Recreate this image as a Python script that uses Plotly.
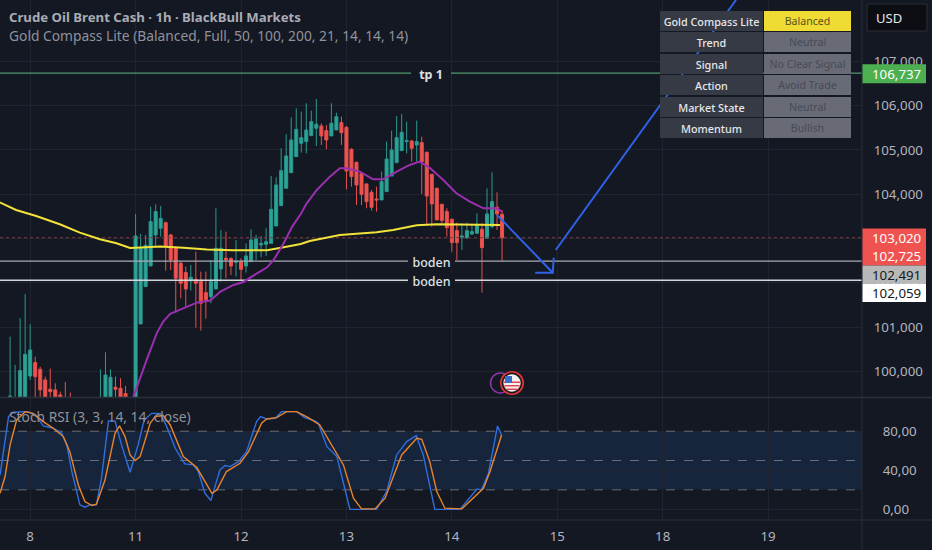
import plotly.graph_objects as go

# ---------- data ----------
bar_index = [-25,-24,-23,-22,-21,-20,-19,-18,-17,-16,-15,-14,-13,-7,-6,-5,-4,-3,-2] + list(range(0,74))
bar_open = [99403,99250,99300,99350,99899,100200,100050,99809,99599,99584,99471,99400,99380,99300,99300,99300,99644,99621,99501,
 99300,101073,101916,102382,103082,103233,103360,103082,102796,102443,102232,102044,102081,102029,101780,101690,101863,102315,102555,102548,
 102465,102480,102382,102480,102743,102856,102871,102894,103285,103744,104135,104489,104850,105151,105189,105324,105490,105542,105437,105317,
 105452,105618,105512,105016,104722,104474,104233,104045,103895,103872,104060,104414,104715,104986,105189,105204,105114,105166,104948,104451,
 104135,103774,103609,103436,103180,103029,103022,103105,103120,103210,103007,103270,103707,103548]
bar_high = [100787,100148,101201,101750,101066,100336,100110,99884,100065,99734,99546,99764,99523,100050,100434,100050,99884,99847,99674,
 103556,103105,103082,103722,103774,103737,103383,103105,102819,102480,102367,102405,102706,102254,102254,102518,103684,103195,103157,102578,
 102969,102555,102894,103210,103082,103059,103233,104414,104384,105038,105354,105738,105941,105866,106054,105888,106152,105603,105565,106054,
 105843,105753,105542,105038,104737,104489,104248,104098,104173,104512,105189,105437,105768,105813,105640,105226,105663,105302,104963,104459,
 104150,103782,103684,103451,103360,103345,103360,103308,103571,103345,104135,104497,104045,103646]
bar_low = [99380,99200,99250,99300,99809,99300,99300,99300,99300,99300,99300,99300,99300,99280,99280,99280,99300,99300,99300,
 99280,101073,101916,102382,102819,103044,102277,102292,101329,101653,101464,101826,100990,100923,101194,101540,101863,102029,102104,102179,
 102142,102051,102232,102480,102518,102578,102608,102894,103285,103744,104135,104489,104850,104940,104925,105324,105091,105114,105016,105317,
 105452,105114,104113,104173,103759,103759,103684,103631,103609,103872,104060,104414,104715,104986,104925,104737,104737,104008,103308,103270,
 103421,103345,103044,102706,102518,102743,102992,103082,103120,101780,103007,103233,103195,102503]
bar_close = [99448,99350,100020,100388,100486,99884,99584,99380,99546,99380,99350,99350,99350,99380,99922,99869,99599,99380,99380,
 103059,102796,102849,103383,103609,103458,102819,102518,102104,101991,101863,102127,101991,101540,101615,102029,102781,102781,102518,102382,
 102488,102307,102608,102969,102992,102894,102931,103661,104211,104534,104865,105226,105467,105279,105452,105640,105580,105317,105226,105603,
 105753,105392,104527,104399,104211,104000,103834,103707,103872,104286,104797,105001,105279,105399,105211,105038,105189,104737,103962,103782,
 103421,103406,103248,102909,102909,103059,103180,103157,103308,102796,103556,103834,103556,103020]

ma_long_x = [-27.1,-23.8,-19.8,-15.1,-11.1,-7.1,-3.8,-1.1,0,4.9,9.5,14.2,19.5,26.2,29.5,32.9,34.7,40.7,48,51.3,56,60,72.6]
ma_long_y = [103819,103646,103511,103323,103135,102984,102894,102789,102796,102819,102796,102751,102736,102736,102804,102879,102947,103082,103142,103195,103300,103323,103308]
ma_short_x = [-0.5,0.5,2.2,4.2,5.5,6.9,9.2,12.2,14.9,16.9,19.5,21.5,24.2,26.2,27.5,29.5,31.2,32.9,34.1,36.1,38.7,40.7,42,44.7,47.3,49.3,52,54.6,56.6,58.7,61.3,63.9,66.6,69.3,71.9,73]
ma_short_y = [99403,99734,100261,100862,101126,101299,101404,101555,101600,101803,101953,102021,102217,102352,102518,102894,103270,103556,103797,104098,104399,104587,104587,104512,104339,104339,104512,104662,104737,104587,104323,104023,103834,103684,103684,103609]

arrow_down_x = [72,83.1,79.6,83.1,83.3]
arrow_down_y = [103533,102230,102230,102230,102569]
arrow_up_x = [83.7,119.6]
arrow_up_y = [102743,108386]

stoch_k_x = [-27,-25.3,-24.4,-21.4,-19.7,-18.4,-16.4,-14.7,-13.7,-12.7,-11.1,-10.1,-9.1,-7.8,-6.8,-5.4,-4.1,-2.8,-1.1,0.5,1.7,3.2,4.9,6.2,7.9,9.8,11.5,12.5,13.8,15,16.8,17.8,18.8,20.5,22.1,24.1,24.9,26.1,27.8,29.1,30.8,32.1,33.7,35.7,36.4,38.1,40.1,42.7,48,50,52,54,55.9,57.3,59.6,64.6,68,68.9,70.3,72.1,72.9]
stoch_k_y = [35.3,94.9,99.4,100,94.9,85.4,83,77.9,66,38.7,4.6,2.2,4.6,4.6,31.8,90.5,90.5,66,38,66,91.5,98.3,98.3,84.7,62.5,46.5,45.5,38.7,16.5,9,40.4,44.8,43.8,48.9,59.1,89.8,94.9,92.5,93.2,100,100,100,93.9,90.5,88.1,64.2,54,0,0,18.2,55.7,69.4,75.5,55.7,0,0,20.9,19.9,37,85.4,76.2]
stoch_d_x = [-27,-26,-25,-23.7,-22,-20.4,-18.4,-16.4,-14.4,-13.1,-11.4,-10.1,-8.7,-7.8,-6.1,-4.1,-3.2,-2.1,-1.1,-0.1,0.9,2.9,3.9,5.5,6.9,9.5,12.2,13.5,15.2,16.2,18.1,20.8,22.5,25.1,26.1,28.1,30.1,32.1,34.4,36.7,40.1,41.4,43.4,45,47.7,49.7,53,56,57,58.6,60,61.6,65,68,69.3,70.6,71.9,72.9]
stoch_d_y = [16.5,33.6,66,91.5,100,98.3,89.8,83,74.5,59.1,25,8,3.9,5.2,30.1,77.9,85.4,74.5,55.7,49.9,54,88.1,94.9,96,86.4,54,42.8,31.8,16.5,19.9,38.7,47.2,59.1,88.1,92.5,93.9,100,100,93.9,86.4,57.4,45.5,11.4,0.5,0.5,11.4,55.7,72.8,71.7,48.9,18.2,1.2,0.5,15.5,21.6,38.7,60.8,76.2]

day_ticks = [-21,0,21,42,63,84,105,126]
day_labels = ["8","11","12","13","14","15","18","19"]
price_ticks = [100000,101000,102000,103000,104000,105000,106000,107000]
price_tick_labels = ["100,000","101,000","102,000","103,000","104,000","105,000","106,000","107,000"]
stoch_ticks = [0,40,80]
stoch_tick_labels = ["0,00","40,00","80,00"]
stoch_levels = [20,50,80]
tp_level = 106737
floor_levels = [102491,102059]
last_price = 103020
other_price = 102725

table_left = ["Gold Compass Lite","Trend","Signal","Action","Market State","Momentum"]
table_right = ["Balanced","Neutral","No Clear Signal","Avoid Trade","Neutral","Bullish"]

# ---------- styling ----------
BG = "#141823"
GRID = "#1f2430"
AXIS = "#2b2f3a"
TXT = "#b2b5be"
FONT = "Noto Sans"
XR = [-27.01, 144.7]
fig = go.Figure()

def px(x): return x/862
def py(y): return (520-y)/520

fig.add_trace(go.Candlestick(x=bar_index, open=bar_open, high=bar_high, low=bar_low, close=bar_close,
    xaxis="x", yaxis="y", whiskerwidth=0,
    increasing=dict(line=dict(color="#2b9a8f", width=1), fillcolor="#2ba598"),
    decreasing=dict(line=dict(color="#e8504d", width=1), fillcolor="#ef5350"),
    hoverinfo="skip", showlegend=False))

def line(x, y, color, width, dash="solid", xa="x", ya="y"):
    fig.add_trace(go.Scatter(x=x, y=y, mode="lines", xaxis=xa, yaxis=ya, hoverinfo="skip", showlegend=False,
                             line=dict(color=color, width=width, dash=dash)))

line(XR, [last_price,last_price], "#7a3a40", 1, "dot")
line(XR, [tp_level,tp_level], "#4f9a6c", 1.2)
line(XR, [floor_levels[0]]*2, "#a8abb3", 1.4)
line(XR, [floor_levels[1]]*2, "#d4d6dc", 1.4)
line(ma_long_x, ma_long_y, "#f2e33a", 2)
line(ma_short_x, ma_short_y, "#9a2fb0", 2)
line(arrow_down_x, arrow_down_y, "#2f62e6", 2)
line(arrow_up_x, arrow_up_y, "#2f62e6", 2)

for lv in stoch_levels:
    line(XR, [lv,lv], "#6a6e78", 1, "dash", "x", "y2")
line(stoch_k_x, stoch_k_y, "#2f6fe0", 1.4, "solid", "x", "y2")
line(stoch_d_x, stoch_d_y, "#e8842c", 1.4, "solid", "x", "y2")

def box(x0, x1, y0, y1, fill, edge=None):
    return dict(type="rect", xref="paper", yref="paper", x0=px(x0), x1=px(x1), y0=py(y1), y1=py(y0), fillcolor=fill,
                line=dict(color=edge, width=1) if edge else dict(width=0))

shapes = [
    dict(type="rect", xref="x", yref="y2", x0=XR[0], x1=XR[1], y0=stoch_levels[0], y1=stoch_levels[2],
         fillcolor="rgba(33,120,210,0.14)", line_width=0, layer="below"),
    dict(type="line", xref="paper", yref="paper", x0=0, x1=px(932), y0=py(397.5), y1=py(397.5), line=dict(color=AXIS, width=1.5)),
    dict(type="line", xref="paper", yref="paper", x0=0, x1=px(932), y0=py(520), y1=py(520), line=dict(color=AXIS, width=1)),
    dict(type="line", xref="paper", yref="paper", x0=1, x1=1, y0=py(0), y1=py(550), line=dict(color=AXIS, width=1)),
    box(867, 927, 4, 31, "#0c0e13", "#2a2e39"),
    box(862.5, 926, 64.3, 83.3, "#4caf50"),
    box(862.5, 926, 228.5, 265.5, "#ef5350"),
    box(862.5, 926, 265.5, 283.5, "#b8b8b8"),
    box(862.5, 926, 283.5, 302, "#ffffff"),
]
# event marker
def circ(cx, cy, r, fill, edge, w=1.5):
    return dict(type="circle", xref="paper", yref="paper", x0=px(cx-r), x1=px(cx+r), y0=py(cy+r), y1=py(cy-r),
                fillcolor=fill, line=dict(color=edge, width=w))
shapes += [circ(500.5,383,10,"#141823","#8e35a8"), circ(512,383,11.2,"#1a1620","#e53935",1.6), circ(512,383,8.4,"#f3f3f3","#f3f3f3",0.5)]
for y0,y1,hw in [(381.5,383,8.2),(385,386.5,7.6),(388.5,390,5.6)]:
    shapes.append(box(512-hw, 512+hw, y0, y1, "#e8474a"))
shapes.append(box(505, 512, 376, 383, "#3a6ecb"))

ann = []
def note(x, y, text, size=13, color=TXT, anchor="left", bg=None, w=None, h=None, bold=False, weight=None):
    font = dict(family=FONT, size=size, color=color)
    if weight: font["weight"] = weight
    d = dict(xref="paper", yref="paper", x=px(x), y=py(y), text=("<b>%s</b>" % text) if bold else text,
             showarrow=False, xanchor=anchor, yanchor="middle", align="center", valign="middle", borderpad=0, borderwidth=0,
             font=font)
    if bg: d["bgcolor"] = bg
    if w: d["width"] = w
    if h: d["height"] = h
    ann.append(d)

note(9, 17.5, "Crude Oil Brent Cash · 1h · BlackBull Markets", 13.2, "#a9acb5", bold=True)
note(9, 36, "Gold Compass Lite (Balanced, Full, 50, 100, 200, 21, 14, 14, 14)", 13.8, "#8f929b")
note(9, 416, "Stoch RSI (3, 3, 14, 14, close)", 13.8, "#8f929b")
note(431, 74, "tp 1", 12.5, "#dfe1e6", "center", BG, 40, 16, bold=True)
note(431.5, 261.7, "boden", 12.5, "#dfe1e6", "center", BG, 47, 16, weight=500)
note(431.5, 281, "boden", 12.5, "#dfe1e6", "center", BG, 47, 16, weight=500)

rows = [(10.7,31),(32,52.3),(53.7,74),(75,95.3),(96.3,116.7),(117.7,138)]
for i,(t,b) in enumerate(rows):
    note(660, (t+b)/2, table_left[i], 10.8, "#e6e7ea", "left", "#363a45", 103, b-t, weight=500)
    if i == 0:
        note(764, (t+b)/2, table_right[i], 10.6, "#5a5320", "left", "#efdb33", 87, b-t)
    else:
        note(764, (t+b)/2, table_right[i], 10.6, "#474a54", "left", "#686b76", 87, b-t)

note(889, 18, "USD", 13, "#e6e7ea", "center")
note(896.5, 73.8, f"{tp_level:,}", 13.3, "#ffffff", "center")
note(896.5, 238, f"{last_price:,}", 13.3, "#ffffff", "center")
note(896.5, 256, f"{other_price:,}", 13.3, "#ffffff", "center")
note(896.5, 274.5, f"{floor_levels[0]:,}", 13.3, "#141823", "center")
note(896.5, 292.5, f"{floor_levels[1]:,}", 13.3, "#141823", "center")

tickfont = dict(family=FONT, size=13.3, color=TXT)
fig.update_layout(
    width=932, height=550, margin=dict(l=0, r=70, t=0, b=30), autosize=False,
    paper_bgcolor=BG, plot_bgcolor=BG, showlegend=False, boxgap=0.4, boxgroupgap=0, dragmode=False,
    xaxis=dict(domain=[0,1], range=XR, anchor="y2", rangeslider=dict(visible=False), tickmode="array",
               tickvals=day_ticks, ticktext=day_labels, tickfont=tickfont, ticks="outside", ticklen=4, tickcolor=BG,
               showgrid=True, gridcolor=GRID, gridwidth=1, zeroline=False, showline=False),
    yaxis=dict(domain=[py(397),1], range=[99424,108386], side="right", anchor="x", tickmode="array",
               tickvals=price_ticks, ticktext=price_tick_labels, tickfont=tickfont, ticks="outside", ticklen=8, tickcolor=BG,
               showgrid=True, gridcolor=GRID, gridwidth=1, zeroline=False, showline=False),
    yaxis2=dict(domain=[0,py(398)], range=[-10.9,114], side="right", anchor="x", tickmode="array",
               tickvals=stoch_ticks, ticktext=stoch_tick_labels, tickfont=tickfont, ticks="outside", ticklen=17, tickcolor=BG,
               showgrid=True, gridcolor=GRID, gridwidth=1, zeroline=False, showline=False),
    shapes=shapes, annotations=ann,
)
fig.write_html("out.html", post_script="document.body.style.margin='0';document.documentElement.style.overflow='hidden';",
               config=dict(displayModeBar=False))
